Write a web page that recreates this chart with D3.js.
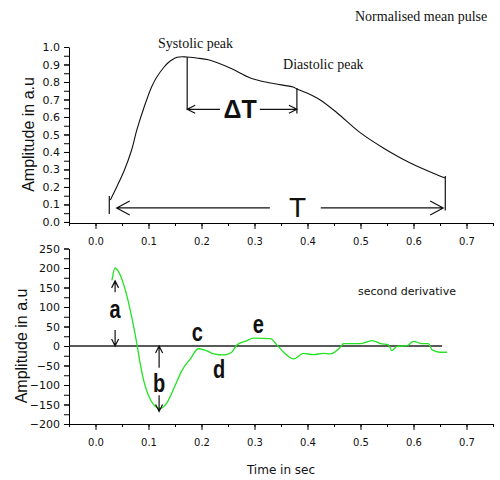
<!DOCTYPE html>
<html>
<head>
<meta charset="utf-8">
<script src="https://cdn.jsdelivr.net/npm/d3@7"></script>
<style>
  body { margin: 0; background: #fff; }
  svg { display: block; }
  .tick text { font-family: "DejaVu Sans", sans-serif; fill: #111; }
</style>
</head>
<body>
<svg id="chart" width="500" height="480"></svg>
<script>
// ---- data ----
const xTickValues = [0.0, 0.1, 0.2, 0.3, 0.4, 0.5, 0.6, 0.7];
const pulseTicks = [0.0, 0.1, 0.2, 0.3, 0.4, 0.5, 0.6, 0.7, 0.8, 0.9, 1.0];
const derivTicks = [-200, -150, -100, -50, 0, 50, 100, 150, 200, 250];

// normalised mean pulse (time in sec, amplitude in a.u)
const pulseTime = [0.028, 0.040, 0.055, 0.068, 0.078, 0.091, 0.106, 0.116, 0.128, 0.137, 0.154, 0.172, 0.191, 0.213,
                   0.254, 0.292, 0.330, 0.373, 0.380, 0.400, 0.424, 0.456, 0.500, 0.543, 0.594, 0.645, 0.660];
const pulseAmp  = [0.126, 0.20, 0.30, 0.41, 0.526, 0.65, 0.773, 0.83, 0.88, 0.91, 0.941, 0.943, 0.937, 0.927,
                   0.88, 0.823, 0.794, 0.771, 0.76, 0.735, 0.697, 0.623, 0.509, 0.423, 0.337, 0.269, 0.251];

// second derivative
const derivTime = [0.031, 0.037, 0.047, 0.059, 0.069, 0.078, 0.084, 0.091, 0.100, 0.109, 0.122, 0.135, 0.150, 0.163,
                   0.179, 0.194, 0.204, 0.223, 0.242, 0.257, 0.267, 0.286, 0.298, 0.330, 0.342, 0.355, 0.374, 0.392,
                   0.411, 0.430, 0.443, 0.462, 0.468, 0.499, 0.522, 0.538, 0.553, 0.559, 0.569, 0.588, 0.600, 0.616,
                   0.628, 0.635, 0.650, 0.663];
const derivAmp  = [168, 200, 181, 130, 70, 6, -42, -89, -127, -149, -160, -145, -102, -63,
                   -33, -7, -9, -20, -23, -16, 3, 14, 20, 19, 3, -16, -33, -19,
                   -22, -19, -20, -3, 6, 6, 14, 6, 3, -12, -1, 1, 12, 6,
                   6, -10, -16, -16];

// annotation anchors (data units)
const systolic = { t: 0.173, v: 0.943 };
const diastolic = { t: 0.380, v: 0.765 };
const deltaLevel = 0.644;
const periodLevel = 0.08;
const periodStart = 0.026, periodEnd = 0.66;

const svg = d3.select("#chart");
const x = d3.scaleLinear().domain([-0.05, 0.75]).range([69, 493]);
const yTop = d3.scaleLinear().domain([-0.006, 1.0]).range([223, 47]);
const yBot = d3.scaleLinear().domain([-200, 250]).range([424, 248.5]);

const fmt1 = d3.format(".1f");
const minor = (lo, hi, step) => d3.range(Math.round((hi - lo) / step) + 1).map(i => +(lo + i * step).toFixed(4));

function styleAxis(g, size) {
  g.selectAll("path, line").attr("stroke", "#000").attr("stroke-width", 1);
  g.selectAll("text").attr("font-size", size);
}

function drawAxes(y, yMajor, yMinor, yFmt, axisY) {
  // x axis
  svg.append("g").attr("transform", `translate(0,${axisY})`)
    .call(d3.axisBottom(x).tickValues(minor(-0.05, 0.75, 0.05)).tickSize(3).tickSizeOuter(0).tickFormat(""))
    .call(g => styleAxis(g, 10));
  svg.append("g").attr("transform", `translate(0,${axisY})`)
    .call(d3.axisBottom(x).tickValues(xTickValues).tickSize(6).tickSizeOuter(0).tickPadding(9).tickFormat(fmt1))
    .call(g => styleAxis(g, 10))
    .call(g => g.select(".domain").remove());
  // y axis
  svg.append("g").attr("transform", "translate(69,0)")
    .call(d3.axisLeft(y).tickValues(yMinor).tickSize(5).tickSizeOuter(0).tickFormat(""))
    .call(g => styleAxis(g, 11));
  svg.append("g").attr("transform", "translate(69,0)")
    .call(d3.axisLeft(y).tickValues(yMajor).tickSize(5).tickSizeOuter(0).tickPadding(4).tickFormat(yFmt))
    .call(g => styleAxis(g, 11))
    .call(g => g.select(".domain").remove());
}

drawAxes(yTop, pulseTicks, minor(0, 1, 0.05), fmt1, 223);
drawAxes(yBot, derivTicks, minor(-200, 250, 25), d3.format("d"), 424);

// y axis titles
[[28, yTop(0.5)], [21, yBot(0)]].forEach(([cx, cy]) => {
  svg.append("text")
    .attr("transform", `translate(${cx},${cy}) rotate(-90)`)
    .attr("text-anchor", "middle")
    .attr("dominant-baseline", "central")
    .attr("font-family", "Liberation Sans, Arial, sans-serif")
    .attr("font-size", 16)
    .attr("fill", "#111")
    .text("Amplitude in a.u");
});

svg.append("text")
  .attr("x", x(0.35)).attr("y", 474)
  .attr("text-anchor", "middle")
  .attr("font-family", "DejaVu Sans, sans-serif")
  .attr("font-size", 12)
  .attr("fill", "#111")
  .text("Time in sec");

// ---- curves ----
const line = (xs, ys, yScale) => d3.line()
  .x(i => x(xs[i])).y(i => yScale(ys[i]))
  .curve(d3.curveCatmullRom.alpha(0.5))(d3.range(xs.length));

svg.append("path")
  .attr("d", line(pulseTime, pulseAmp, yTop))
  .attr("fill", "none").attr("stroke", "#111").attr("stroke-width", 1.1);

// zero line
svg.append("line")
  .attr("x1", x(-0.05)).attr("x2", x(0.654))
  .attr("y1", yBot(0)).attr("y2", yBot(0))
  .attr("stroke", "#222").attr("stroke-width", 1.5);

svg.append("path")
  .attr("d", d3.line().x(i => x(derivTime[i])).y(i => yBot(derivAmp[i])).curve(d3.curveMonotoneX)(d3.range(derivTime.length)))
  .attr("fill", "none").attr("stroke", "#22e322").attr("stroke-width", 1.3);

// ---- annotations ----
const ink = svg.append("g").attr("stroke", "#111").attr("fill", "none").attr("stroke-width", 1.2);

function arrow(x1, y1, x2, y2, len, half) {
  const a = Math.atan2(y2 - y1, x2 - x1);
  const ux = Math.cos(a), uy = Math.sin(a);
  const bx = x2 - ux * len, by = y2 - uy * len;
  ink.append("path").attr("d",
    `M${x1},${y1}L${x2},${y2}` +
    `M${bx - uy * half},${by + ux * half}L${x2},${y2}L${bx + uy * half},${by - ux * half}`);
}
function seg(x1, y1, x2, y2) {
  ink.append("line").attr("x1", x1).attr("y1", y1).attr("x2", x2).attr("y2", y2);
}

// systolic / diastolic markers and delta T
seg(x(systolic.t), yTop(systolic.v), x(systolic.t), yTop(deltaLevel));
seg(x(diastolic.t), yTop(diastolic.v), x(diastolic.t), yTop(0.62));
arrow(x(0.235), yTop(deltaLevel), x(systolic.t), yTop(deltaLevel), 8, 4);
arrow(x(0.31), yTop(deltaLevel), x(diastolic.t), yTop(deltaLevel), 8, 4);

// period T
seg(x(periodStart), yTop(0.148), x(periodStart), yTop(0.045));
seg(x(periodEnd), yTop(0.262), x(periodEnd), yTop(0.065));
arrow(x(0.329), yTop(periodLevel), x(0.04), yTop(periodLevel), 13, 7);
arrow(x(0.425), yTop(periodLevel), x(0.656), yTop(periodLevel), 13, 7);

// a and b arrows
arrow(x(0.037), yBot(138), x(0.037), yBot(167), 7, 3.5);
arrow(x(0.037), yBot(41), x(0.037), yBot(0), 7, 3.5);
arrow(x(0.12), yBot(-56), x(0.12), yBot(0), 7, 3.5);
arrow(x(0.12), yBot(-126), x(0.12), yBot(-168), 7, 3.5);

function label(txt, cx, cy, size, opts = {}) {
  svg.append("text")
    .attr("transform", `translate(${cx},${cy}) scale(${opts.sx || 1},1)`)
    .attr("text-anchor", opts.anchor || "middle")
    .attr("dominant-baseline", opts.baseline || "central")
    .attr("font-family", opts.family || "Liberation Sans, Arial, sans-serif")
    .attr("font-weight", opts.weight || "normal")
    .attr("font-size", size)
    .attr("fill", "#111")
    .text(txt);
}

const serif = { family: "Liberation Serif, Times New Roman, serif", anchor: "start", baseline: "alphabetic" };
label("Normalised mean pulse", 355, 21, 14, serif);
label("Systolic peak", x(0.118), yTop(0.997), 14, serif);
label("Diastolic peak", x(0.354), yTop(0.875), 14, serif);

label("\u0394T", x(0.273), yTop(deltaLevel), 25, { weight: "bold" });
label("T", x(0.381), yTop(periodLevel), 28);

label("second derivative", 358, 295, 11, { family: "DejaVu Sans, sans-serif", anchor: "start", baseline: "alphabetic" });

const letter = { weight: "bold", sx: 0.8 };
label("a", x(0.037), yBot(92), 25, letter);
label("b", x(0.12), yBot(-97), 25, letter);
label("c", x(0.192), yBot(33), 25, letter);
label("d", x(0.233), yBot(-62), 25, letter);
label("e", x(0.307), yBot(54), 25, letter);
</script>
</body>
</html>
